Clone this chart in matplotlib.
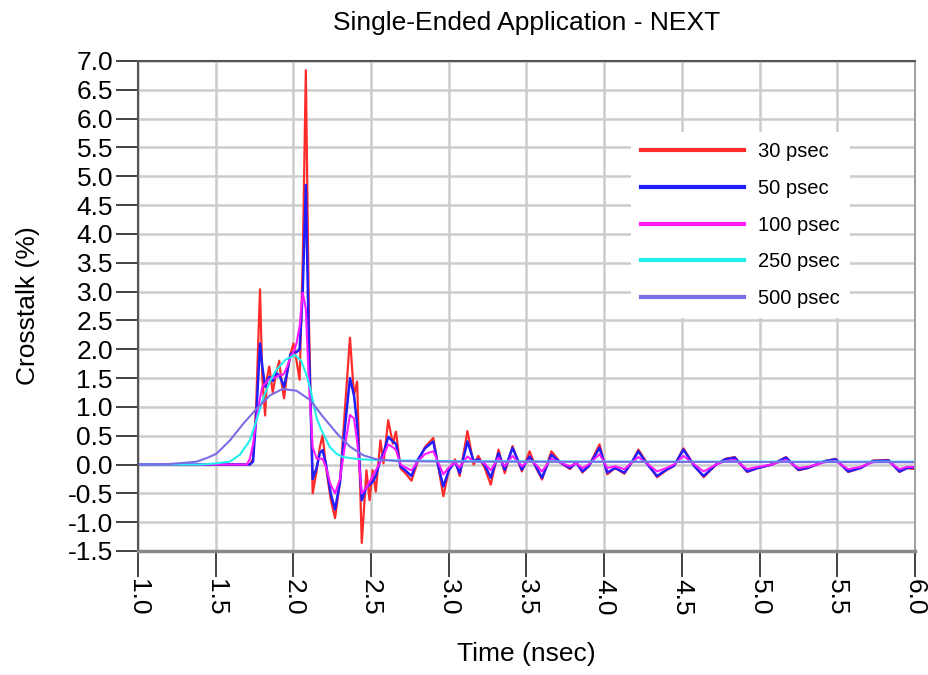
import matplotlib
matplotlib.use("Agg")
import matplotlib.pyplot as plt
import numpy as np

plt.rcParams['font.family'] = ['Liberation Sans', 'DejaVu Sans']

# time grid (nsec) shared by the three fast-edge traces
t_fast = [1.0, 1.70, 1.72, 1.74, 1.76, 1.785, 1.80, 1.818, 1.83, 1.845, 1.867, 1.89,
          1.909, 1.925, 1.94, 1.96, 1.98, 2.0, 2.02, 2.04, 2.06, 2.08, 2.10, 2.124,
          2.15, 2.17, 2.188, 2.21, 2.24, 2.268, 2.30, 2.33, 2.364, 2.39, 2.41, 2.44,
          2.47, 2.49, 2.51, 2.53, 2.56, 2.58, 2.61, 2.64, 2.66, 2.69, 2.72, 2.76,
          2.80, 2.846, 2.90, 2.93, 2.965, 3.0, 3.04, 3.07, 3.12, 3.16, 3.19, 3.23,
          3.27, 3.32, 3.36, 3.41, 3.47, 3.52, 3.56, 3.60, 3.66, 3.72, 3.78, 3.82,
          3.86, 3.90, 3.97, 4.02, 4.07, 4.13, 4.18, 4.22, 4.27, 4.34, 4.40, 4.45,
          4.51, 4.58, 4.64, 4.72, 4.78, 4.84, 4.92, 4.99, 5.08, 5.17, 5.25, 5.31,
          5.42, 5.49, 5.57, 5.65, 5.73, 5.83, 5.90, 5.95, 6.0]

xt_30 = [0, 0, 0.0, 0.1, 1.0, 3.04, 1.5, 0.85, 1.5, 1.7, 1.25, 1.6,
         1.8, 1.4, 1.15, 1.6, 1.9, 2.1, 1.8, 1.47, 3.5, 6.84, 2.5, -0.5,
         -0.1, 0.3, 0.51, -0.05, -0.6, -0.93, -0.3, 0.9, 2.2, 1.2, 1.44, -1.36,
         -0.1, -0.62, -0.1, -0.47, 0.42, 0.02, 0.77, 0.36, 0.57, -0.07, -0.15, -0.28,
         0.05, 0.3, 0.46, 0.0, -0.55, -0.1, 0.09, -0.2, 0.58, 0.0, 0.15, -0.05,
         -0.35, 0.26, -0.15, 0.32, -0.12, 0.23, -0.05, -0.26, 0.23, 0.03, -0.08, 0.05,
         -0.14, -0.03, 0.35, -0.17, -0.06, -0.16, 0.05, 0.26, 0.05, -0.22, -0.1, -0.02,
         0.28, -0.02, -0.22, 0.0, 0.1, 0.13, -0.13, -0.06, 0.0, 0.13, -0.1, -0.06,
         0.06, 0.1, -0.13, -0.06, 0.07, 0.08, -0.13, -0.06, -0.08]

xt_50 = [0, 0, 0, 0.05, 0.8, 2.1, 1.7, 1.35, 1.45, 1.52, 1.45, 1.58,
         1.55, 1.45, 1.35, 1.6, 1.9, 1.95, 1.95, 2.0, 3.0, 4.85, 2.0, -0.25,
         -0.05, 0.2, 0.25, 0.0, -0.5, -0.78, -0.3, 0.6, 1.5, 1.2, 0.7, -0.62,
         -0.39, -0.35, -0.3, -0.2, 0.08, 0.2, 0.48, 0.4, 0.36, -0.04, -0.1, -0.2,
         0.08, 0.28, 0.4, 0.0, -0.38, -0.1, 0.05, -0.15, 0.4, 0.06, 0.09, 0.0,
         -0.23, 0.2, -0.09, 0.29, -0.09, 0.14, -0.03, -0.23, 0.17, 0.03, -0.06, 0.03,
         -0.12, -0.03, 0.29, -0.14, -0.06, -0.14, 0.05, 0.23, 0.03, -0.2, -0.09, -0.02,
         0.26, -0.03, -0.2, 0.0, 0.09, 0.12, -0.12, -0.06, 0.0, 0.12, -0.09, -0.06,
         0.06, 0.09, -0.12, -0.06, 0.06, 0.07, -0.12, -0.06, -0.05]

xt_100 = [0, 0.0, 0.1, 0.35, 0.75, 1.15, 1.35, 1.4, 1.45, 1.48, 1.5, 1.52,
          1.55, 1.55, 1.58, 1.7, 1.85, 1.95, 2.1, 2.4, 2.98, 2.7, 1.4, 0.3,
          0.1, 0.1, 0.1, -0.05, -0.35, -0.5, -0.25, 0.3, 0.86, 0.8, 0.4, -0.5,
          -0.4, -0.3, -0.2, -0.1, 0.05, 0.15, 0.35, 0.3, 0.25, 0.0, -0.05, -0.1,
          0.05, 0.18, 0.23, 0.05, -0.17, -0.05, 0.03, -0.05, 0.14, 0.05, 0.06, 0.02,
          -0.1, 0.12, -0.03, 0.15, -0.03, 0.08, 0.0, -0.12, 0.1, 0.03, -0.03, 0.02,
          -0.06, 0.0, 0.18, -0.06, -0.03, -0.08, 0.04, 0.13, 0.03, -0.12, -0.06, 0.0,
          0.15, 0.0, -0.12, 0.0, 0.06, 0.08, -0.08, -0.04, 0.0, 0.08, -0.06, -0.04,
          0.04, 0.06, -0.08, -0.04, 0.04, 0.05, -0.08, -0.04, -0.04]

t_250 = [1.0, 1.4, 1.5, 1.59, 1.656, 1.72, 1.76, 1.806, 1.85, 1.89, 1.95, 2.01,
         2.05, 2.085, 2.11, 2.15, 2.18, 2.235, 2.28, 2.32, 2.4, 2.5, 2.7, 3.0, 4.0, 6.0]
xt_250 = [0, 0.0, 0.02, 0.05, 0.17, 0.42, 0.75, 1.15, 1.45, 1.64, 1.82, 1.9,
          1.8, 1.55, 1.3, 0.8, 0.6, 0.3, 0.18, 0.13, 0.1, 0.08, 0.07, 0.06, 0.05, 0.05]

t_500 = [1.0, 1.2, 1.3, 1.378, 1.45, 1.506, 1.592, 1.678, 1.764, 1.849, 1.93, 2.02,
         2.107, 2.19, 2.28, 2.364, 2.45, 2.536, 2.665, 3.0, 6.0]
xt_500 = [0, 0.01, 0.03, 0.05, 0.12, 0.19, 0.42, 0.71, 0.97, 1.2, 1.31, 1.28,
          1.12, 0.83, 0.54, 0.31, 0.16, 0.09, 0.06, 0.05, 0.04]

series = [
    ("30 psec", t_fast, xt_30, "#ff2a2a", 1.6),
    ("50 psec", t_fast, xt_50, "#1f1fff", 1.8),
    ("100 psec", t_fast, xt_100, "#ff1aff", 1.5),
    ("250 psec", t_250, xt_250, "#22eeee", 1.5),
    ("500 psec", t_500, xt_500, "#7a6ee6", 1.5),
]

fig = plt.figure(figsize=(9.29, 6.75), dpi=100)
ax = fig.add_axes([138 / 929, 1 - 551 / 675, (915 - 138) / 929, (551 - 61) / 675])

for label, t, v, color, lw in series:
    ax.plot(t, v, color=color, lw=lw, label=label, solid_joinstyle='round')

ax.set_xlim(1.0, 6.0)
ax.set_ylim(-1.5, 7.0)
ax.set_xticks(np.arange(1.0, 6.01, 0.5))
ax.set_yticks(np.arange(-1.5, 7.01, 0.5))
ax.set_xticklabels([f"{x:.1f}" for x in ax.get_xticks()], rotation=-90)
ax.set_yticklabels([f"{y:.1f}" for y in ax.get_yticks()])
ax.tick_params(axis='both', labelsize=19, length=16, width=1.3, color='#333333', pad=2)
ax.tick_params(axis='x', length=19, pad=1)

ax.grid(True, color='#cccccc', lw=1.8)
ax.set_axisbelow(True)
for side in ['left', 'top']:
    ax.spines[side].set_color('#555555')
    ax.spines[side].set_linewidth(1.5)
ax.spines['bottom'].set_color('#888888')
ax.spines['bottom'].set_linewidth(2.5)
ax.spines['right'].set_color('#999999')
ax.spines['right'].set_linewidth(1.3)

ax.set_title("Single-Ended Application - NEXT", fontsize=19, pad=22)
ax.set_xlabel("Time (nsec)", fontsize=19, labelpad=19)
ax.set_ylabel("Crosstalk (%)", fontsize=19, labelpad=20)

leg = ax.legend(loc='upper left', bbox_to_anchor=(621 / 929, 1 - 122 / 675),
                bbox_transform=fig.transFigure, frameon=True, fancybox=False,
                edgecolor='none', facecolor='white', framealpha=1.0, fontsize=14.5,
                handlelength=5.1, handletextpad=0.7, labelspacing=0.88, borderpad=0.5)
for line in leg.get_lines():
    line.set_linewidth(3)

fig.savefig("out.png", dpi=100)
